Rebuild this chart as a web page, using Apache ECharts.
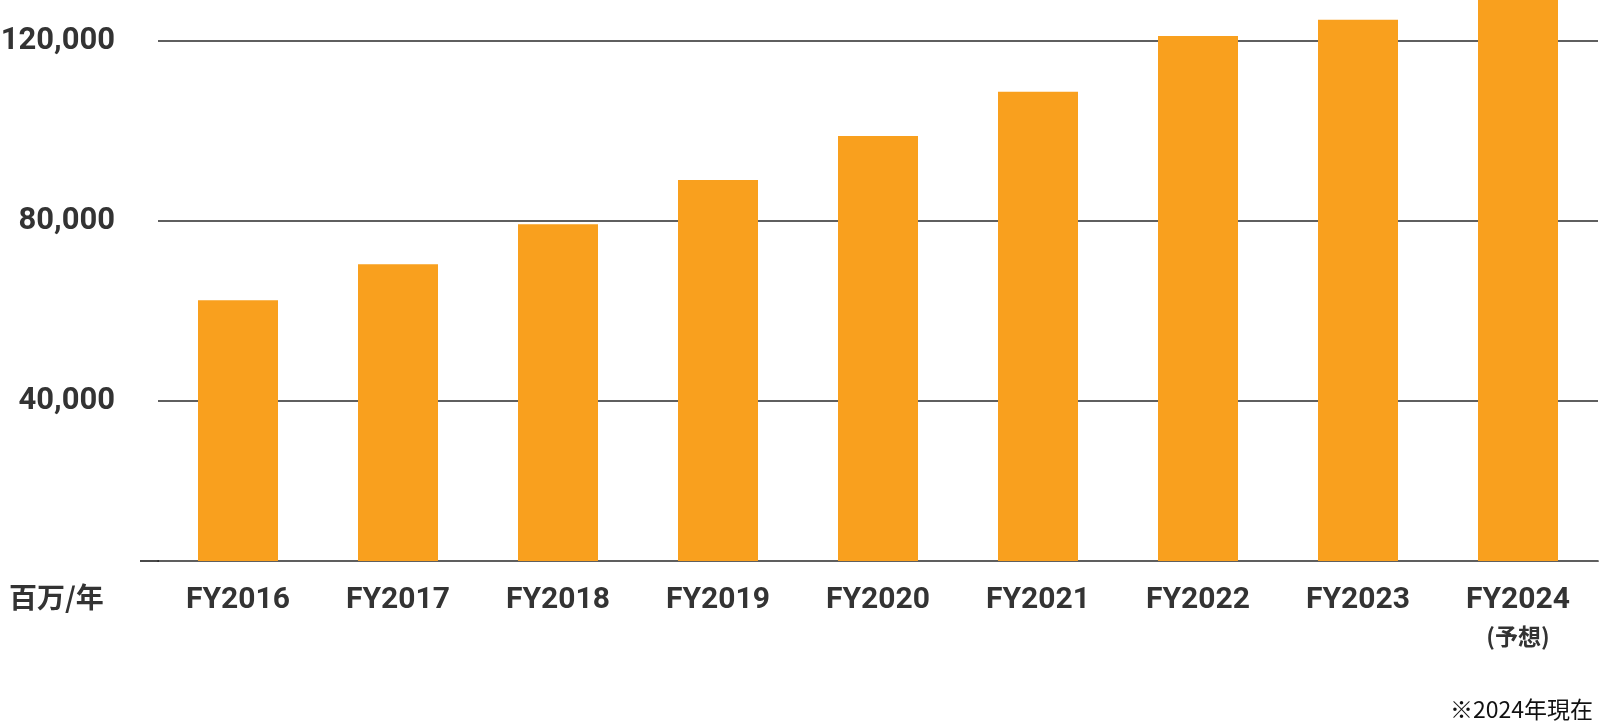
<!DOCTYPE html>
<html>
<head>
<meta charset="utf-8">
<script src="https://cdn.jsdelivr.net/npm/echarts@6/dist/echarts.min.js"></script>
<style>
html,body{margin:0;padding:0;background:#fff;}
#chart{width:1600px;height:726px;}
</style>
</head>
<body>
<div id="chart"></div>
<script>
const categories = ['FY2016','FY2017','FY2018','FY2019','FY2020','FY2021','FY2022','FY2023','FY2024'];
const categoryNotes = ['','','','','','','','','(予想)'];
const revenue = [62400, 70400, 79300, 89100, 98900, 108700, 121100, 124700, 132000];
const yTicks = [40000, 80000, 120000];
const unitLabel = '百万/年';
const footnote = '※2024年現在';

const chart = echarts.init(document.getElementById('chart'));
const textColor = '#333333';
const lineColor = '#2a2a2a';
const yMin = 4450;
chart.setOption({
  animation: false,
  backgroundColor: '#ffffff',
  title: [
    {
      text: unitLabel, left: 4, top: 578,
      textStyle: {fontFamily: '"Noto Sans CJK JP", sans-serif', fontWeight: 'bold', fontSize: 28, color: textColor}
    },
    {
      text: footnote, right: 2, top: 693,
      textStyle: {fontFamily: '"Noto Sans CJK JP", sans-serif', fontWeight: 'normal', fontSize: 23, color: '#111111'}
    }
  ],
  grid: {left: 158, right: 2, top: 0, bottom: 165, containLabel: false, outerBoundsMode: 'none'},
  xAxis: {
    type: 'category',
    data: categories.map((c, i) => categoryNotes[i] ? c + '\n' + categoryNotes[i] : c),
    axisLine: {show: true, lineStyle: {color: lineColor, width: 1.7}},
    axisTick: {show: false},
    axisLabel: {
      margin: 20,
      interval: 0,
      formatter: function (v) {
        const parts = v.split('\n');
        return parts.length > 1 ? '{a|' + parts[0] + '}\n{b|' + parts[1] + '}' : '{a|' + parts[0] + '}';
      },
      rich: {
        a: {fontFamily: 'Roboto, "Noto Sans CJK JP", sans-serif', fontWeight: 'bold', fontSize: 30, color: textColor, lineHeight: 38},
        b: {fontFamily: '"Noto Sans CJK JP", sans-serif', fontWeight: 'bold', fontSize: 23, color: textColor, lineHeight: 34}
      }
    }
  },
  yAxis: {
    type: 'value',
    min: yMin,
    max: 129100,
    axisLine: {show: false},
    axisTick: {show: false, customValues: yTicks},
    axisLabel: {
      customValues: yTicks,
      margin: 43,
      fontFamily: 'Roboto, sans-serif',
      fontWeight: 'bold',
      fontSize: 31,
      color: textColor,
      formatter: v => v.toLocaleString('en-US')
    },
    splitLine: {show: true, lineStyle: {color: lineColor, width: 1.7}}
  },
  series: [{
    type: 'bar',
    data: revenue,
    barWidth: 80,
    itemStyle: {color: '#F9A01E'},
    clip: true
  }]
});
// small extension of the baseline to the left of the plot area
const baseY = chart.convertToPixel({yAxisIndex: 0}, yMin);
chart.setOption({
  graphic: [{
    type: 'line', z: 10,
    shape: {x1: 140, y1: baseY, x2: 159, y2: baseY},
    style: {stroke: lineColor, lineWidth: 1.7}
  }]
});
</script>
</body>
</html>
